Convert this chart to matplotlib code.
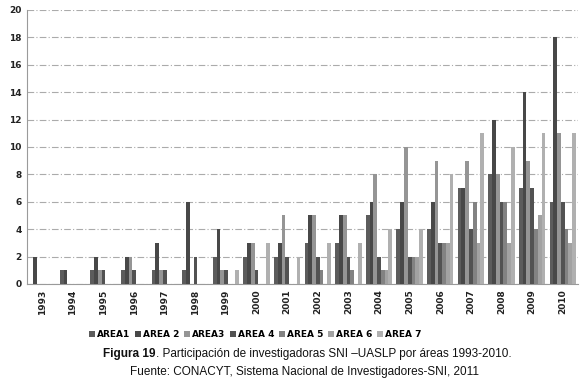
import numpy as np
import matplotlib
matplotlib.use('Agg')
import matplotlib.pyplot as plt

years = ['1993', '1994', '1995', '1996', '1997', '1998', '1999', '2000', '2001',
         '2002', '2003', '2004', '2005', '2006', '2007', '2008', '2009', '2010']
areas = ['AREA1', 'AREA 2', 'AREA3', 'AREA 4', 'AREA 5', 'AREA 6', 'AREA 7']

area1 = [0, 1, 1, 1, 1, 1, 2, 2, 2, 3, 3, 5, 4, 4, 7, 8, 7, 6]
area2 = [2, 1, 2, 2, 3, 6, 4, 3, 3, 5, 5, 6, 6, 6, 7, 12, 14, 18]
area3 = [0, 0, 1, 2, 1, 0, 1, 3, 5, 5, 5, 8, 10, 9, 9, 8, 9, 11]
area4 = [0, 0, 1, 1, 1, 2, 1, 1, 2, 2, 2, 2, 2, 3, 4, 6, 7, 6]
area5 = [0, 0, 0, 0, 0, 0, 0, 0, 0, 1, 1, 1, 2, 3, 6, 6, 4, 4]
area6 = [0, 0, 0, 0, 0, 0, 0, 0, 0, 0, 0, 1, 2, 3, 3, 3, 5, 3]
area7 = [0, 0, 0, 0, 0, 0, 1, 3, 2, 3, 3, 4, 4, 8, 11, 10, 11, 11]

series = [area1, area2, area3, area4, area5, area6, area7]
colors = ['#5c5c5c', '#484848', '#959595', '#525252', '#828282', '#a2a2a2', '#b0b0b0']

fig = plt.figure(figsize=(5.8, 3.83), dpi=100)
ax = fig.add_axes([0.0466, 0.2585, 0.95, 0.7155])

x = np.arange(len(years))
w = 0.1233
for k, vals in enumerate(series):
    ax.bar(x + (k - 3) * w, vals, width=w, color=colors[k], label=areas[k],
           linewidth=0, zorder=3)

ax.set_xlim(-0.5, len(years) - 0.5)
ax.set_ylim(0, 20)
ax.set_yticks(range(0, 21, 2))
ax.set_xticks(x)
ax.set_xticklabels(years, rotation=90, fontsize=6.5, fontweight='bold', color='#222222')
for lab in ax.get_yticklabels():
    lab.set_fontsize(6.5)
    lab.set_fontweight('bold')
    lab.set_color('#222222')
ax.tick_params(axis='both', length=0, pad=4)

ax.yaxis.grid(True, color='#ababab', linestyle=(0, (6, 2, 1, 2)), linewidth=0.8, zorder=0)
for s in ['top', 'right']:
    ax.spines[s].set_visible(False)
ax.spines['left'].set_color('#9a9a9a')
ax.spines['bottom'].set_color('#9a9a9a')

fig.legend(loc='center', bbox_to_anchor=(0.44, 0.126), ncol=7, frameon=False,
           prop={'size': 6.5, 'weight': 'bold'}, handlelength=0.7, handleheight=0.7,
           handletextpad=0.2, columnspacing=0.5)

# caption: no narrow font installed, so size the text to the reference width
fam = ['Liberation Sans', 'DejaVu Sans']
W, H = 580, 383
t1 = fig.text(103 / W, 1 - 354 / H, 'Figura 19', fontsize=10, fontweight='bold',
              family=fam, color='#111111', ha='left', va='center')
t2 = fig.text(0, 1 - 354 / H, '. Participación de investigadoras SNI –UASLP por áreas 1993-2010.',
              fontsize=10, family=fam, color='#111111', ha='left', va='center')
t3 = fig.text(305 / W, 1 - 372 / H, 'Fuente: CONACYT, Sistema Nacional de Investigadores-SNI, 2011',
              fontsize=10, family=fam, color='#111111', ha='center', va='center')

fig.canvas.draw()
r = fig.canvas.get_renderer()
total = t1.get_window_extent(r).width + t2.get_window_extent(r).width
size1 = 10 * 409 / total
t1.set_fontsize(size1)
t2.set_fontsize(size1)
fig.canvas.draw()
t2.set_x((103 + t1.get_window_extent(r).width) / W)
size3 = 10 * 350 / t3.get_window_extent(r).width
t3.set_fontsize(size3)

plt.savefig('out.png', dpi=100)
plt.close()
